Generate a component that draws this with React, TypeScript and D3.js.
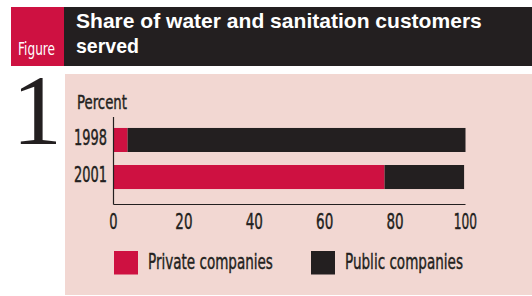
import React, { useLayoutEffect, useRef, useState } from "react";
import * as d3 from "d3";

const years = ["1998", "2001"];
const privateShare = [4, 77];
const publicShare = [96, 22.6];
const xTicks = [0, 20, 40, 60, 80, 100];
const seriesNames = ["Private companies", "Public companies"];
const titleLines = ["Share of water and sanitation customers", "served"];

const RED = "#CE1141";
const DARK = "#231F20";
const PINK = "#F2D7D2";
const SANS = "'DejaVu Sans', sans-serif";

const tickWidth = (s: string) => s.split("").reduce((a, c) => a + (c === "1" ? 5.5 : 8.3), 0) + (s.length - 1) * 0.6;
const titleWidths = [406, 63];
const legendWidths = [125, 118];

type FitProps = {
  x: number; y: number; width: number; children: string; fill: string;
  fontSize: number; fontFamily?: string; fontWeight?: string; stroke?: boolean;
};

function FitText({ x, y, width, children, fill, fontSize, fontFamily = SANS, fontWeight, stroke }: FitProps) {
  const ref = useRef<SVGTextElement>(null);
  const [sx, setSx] = useState(1);
  useLayoutEffect(() => {
    if (ref.current) {
      const w = ref.current.getComputedTextLength();
      if (w > 0) setSx(width / w);
    }
  }, [width, children, fontSize]);
  return (
    <text ref={ref} transform={`translate(${x},${y}) scale(${sx},1)`} fill={fill} fontSize={fontSize}
      fontFamily={fontFamily} fontWeight={fontWeight}
      stroke={stroke ? fill : undefined} strokeWidth={stroke ? 0.45 : undefined}>{children}</text>
  );
}

export default function App() {
  const W = 532, H = 296;
  const x = d3.scaleLinear().domain([0, 100]).range([113.5, 465.5]);
  const y = d3.scaleBand<string>().domain(years).range([115, 202]).paddingInner(0.351).paddingOuter(0.35);
  const color = d3.scaleOrdinal<string, string>().domain(seriesNames).range([RED, DARK]);

  return (
    <svg width={W} height={H} style={{ position: "absolute", left: 0, top: 0 }}>
      <rect x={0} y={0} width={W} height={H} fill="#fff" />
      {/* header */}
      <rect x={11} y={7} width={54} height={59} fill={RED} />
      <rect x={64} y={7} width={W - 64} height={59} fill={DARK} />
      <FitText x={18} y={55} width={37} fill="#fff" fontSize={17}>Figure</FitText>
      {titleLines.map((t, i) => (
        <FitText key={t} x={76} y={27.5 + i * 25.8} width={titleWidths[i]} fill="#fff"
          fontFamily="'Liberation Sans', Arial, sans-serif" fontWeight="bold" fontSize={19.5}>{t}</FitText>
      ))}
      {/* panel */}
      <rect x={65} y={74} width={W - 65} height={221} fill={PINK} />
      <text x={37} y={144} fill={DARK} fontFamily="'Liberation Serif', 'DejaVu Serif', serif" fontSize={100} textAnchor="middle">1</text>
      <FitText x={77} y={109} width={50} fill={DARK} fontSize={19.5} stroke>Percent</FitText>
      {/* bars */}
      {years.map((yr, i) => (
        <g key={yr}>
          <rect x={x(0)} y={y(yr)} width={x(privateShare[i]) - x(0)} height={y.bandwidth()} fill={color(seriesNames[0])} />
          <rect x={x(privateShare[i])} y={y(yr)} width={x(privateShare[i] + publicShare[i]) - x(privateShare[i])} height={y.bandwidth()} fill={color(seriesNames[1])} />
          <FitText x={74} y={(y(yr) as number) + y.bandwidth() / 2 + 4.8} width={33} fill={DARK} fontSize={20.5} stroke>{yr}</FitText>
        </g>
      ))}
      {/* axes */}
      <line x1={x(0)} x2={x(0)} y1={117} y2={204.5} stroke={DARK} strokeWidth={1.2} />
      <line x1={x(0)} x2={x(100)} y1={204.5} y2={204.5} stroke={DARK} strokeWidth={1.2} />
      {xTicks.map(t => {
        const s = String(t);
        const w = tickWidth(s);
        return (
          <FitText key={t} x={x(t) - w / 2} y={229} width={w} fill={DARK} fontSize={20.5} stroke>{s}</FitText>
        );
      })}
      {/* legend */}
      {seriesNames.map((s, i) => {
        const lx = i === 0 ? 114 : 311;
        return (
          <g key={s}>
            <rect x={lx} y={251} width={24} height={23.5} fill={color(s)} />
            <FitText x={lx + 34} y={269.3} width={legendWidths[i]} fill={DARK} fontSize={22} stroke>{s}</FitText>
          </g>
        );
      })}
    </svg>
  );
}
